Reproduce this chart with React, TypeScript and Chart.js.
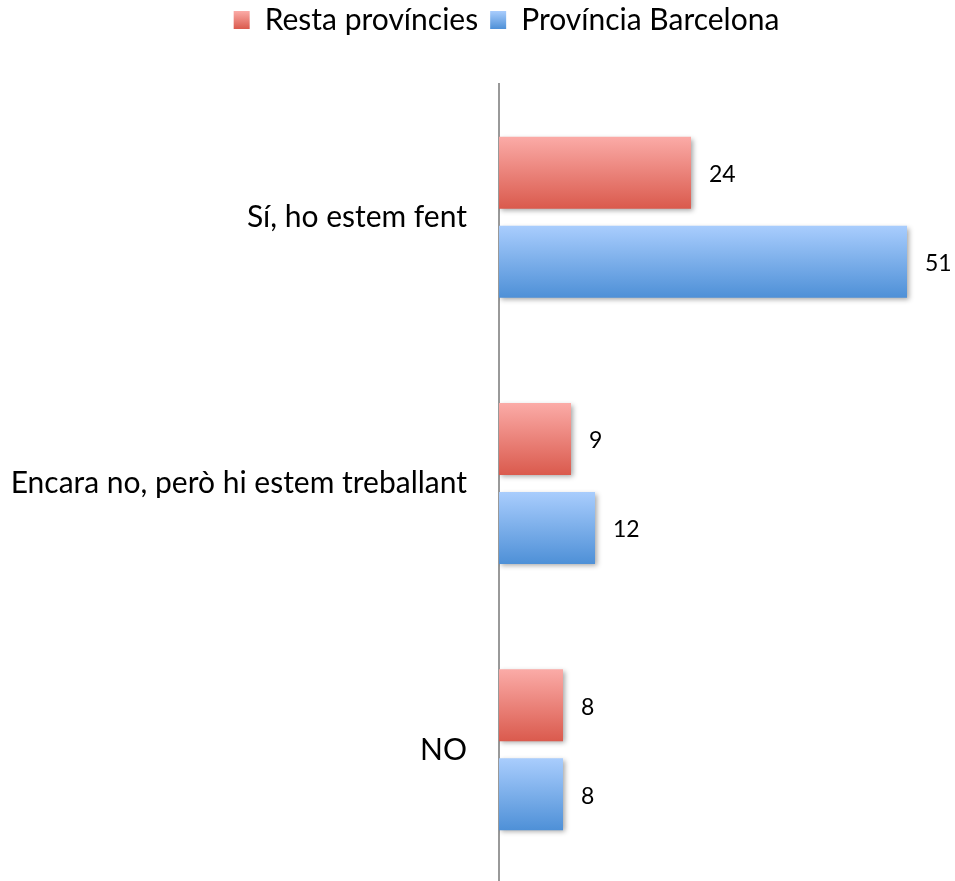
import React, { useEffect, useRef } from "react";
import { Chart, registerables } from "chart.js";

Chart.register(...registerables);

const categories = ["Sí, ho estem fent", "Encara no, però hi estem treballant", "NO"];
const seriesNames = ["Resta províncies", "Província Barcelona"];
const restaValues = [24, 9, 8];
const barcelonaValues = [51, 12, 8];

const RED_TOP = "#FBABA7";
const RED_BOTTOM = "#DA5A4D";
const BLUE_TOP = "#A9CDFD";
const BLUE_BOTTOM = "#4E90D7";

const CAT_PCT = 0.668;
const BAR_PCT = 0.809;
const FONT = "Lato";

function barGradient(c: any, top: string, bottom: string) {
  const chart = c.chart;
  const y = chart.scales && chart.scales.y;
  if (!y || c.type !== "data") return bottom;
  const center = y.getPixelForValue(c.dataIndex);
  const band = Math.abs(y.getPixelForValue(1) - y.getPixelForValue(0));
  if (!isFinite(band) || band <= 0) return bottom;
  const slot = (band * CAT_PCT) / 2;
  const h = slot * BAR_PCT;
  const bc = center + (c.datasetIndex - 0.5) * slot;
  const g = chart.ctx.createLinearGradient(0, bc - h / 2, 0, bc + h / 2);
  g.addColorStop(0, top);
  g.addColorStop(1, bottom);
  return g;
}

const shadowAndLabels = {
  id: "shadowAndLabels",
  afterLayout(chart: any) {
    const l = chart.legend;
    if (l) {
      l.left += 33;
      l.right += 33;
    }
  },
  beforeDatasetsDraw(chart: any) {
    const ctx = chart.ctx;
    ctx.save();
    ctx.shadowColor = "rgba(0,0,0,0.35)";
    ctx.shadowBlur = 5;
    ctx.shadowOffsetX = 2;
    ctx.shadowOffsetY = 2;
  },
  afterDatasetsDraw(chart: any) {
    const ctx = chart.ctx;
    ctx.restore();
    ctx.save();
    ctx.font = `23px ${FONT}`;
    ctx.fillStyle = "#000";
    ctx.textBaseline = "middle";
    ctx.textAlign = "left";
    chart.data.datasets.forEach((ds: any, i: number) => {
      const meta = chart.getDatasetMeta(i);
      meta.data.forEach((el: any, j: number) => {
        ctx.fillText(String(ds.data[j]), el.x + 18, el.y + 2);
      });
    });
    ctx.restore();
  },
};

export default function App() {
  const ref = useRef<HTMLCanvasElement>(null);
  useEffect(() => {
    if (!ref.current) return;
    const chart = new Chart(ref.current, {
      type: "bar",
      data: {
        labels: categories,
        datasets: [
          {
            label: seriesNames[0],
            data: restaValues,
            backgroundColor: (c: any) => barGradient(c, RED_TOP, RED_BOTTOM),
            borderWidth: 0,
            categoryPercentage: CAT_PCT,
            barPercentage: BAR_PCT,
          },
          {
            label: seriesNames[1],
            data: barcelonaValues,
            backgroundColor: (c: any) => barGradient(c, BLUE_TOP, BLUE_BOTTOM),
            borderWidth: 0,
            categoryPercentage: CAT_PCT,
            barPercentage: BAR_PCT,
          },
        ],
      },
      options: {
        indexAxis: "y",
        animation: false,
        responsive: false,
        layout: { padding: { left: 0, right: 8, top: -7, bottom: 1 } },
        scales: {
          x: { display: false, min: 0, max: 56 },
          y: {
            grid: { display: false, drawTicks: false },
            border: { display: true, color: "#999999", width: 2 },
            ticks: { color: "#000", font: { family: FONT, size: 30 }, padding: 32 },
            afterFit: (s: any) => {
              s.width = 499;
              s.paddingTop = 0;
              s.paddingBottom = 0;
            },
          },
        },
        plugins: {
          tooltip: { enabled: false },
          title: {
            display: true,
            text: " ",
            weight: 500,
            position: "top",
            font: { size: 10, lineHeight: 1 },
            padding: { top: 29, bottom: 0 },
          },
          legend: {
            position: "top",
            weight: 1000,
            labels: {
              color: "#000",
              font: { family: FONT, size: 30 },
              boxWidth: 16,
              boxHeight: 18,
              padding: 12,
              generateLabels: (chart: any) => {
                const tops = [RED_TOP, BLUE_TOP];
                const bots = [RED_BOTTOM, BLUE_BOTTOM];
                return seriesNames.map((name, i) => {
                  const g = chart.ctx.createLinearGradient(0, 11, 0, 29);
                  g.addColorStop(0, tops[i]);
                  g.addColorStop(1, bots[i]);
                  return {
                    text: name,
                    fillStyle: g,
                    strokeStyle: "rgba(0,0,0,0)",
                    lineWidth: 0,
                    hidden: false,
                    datasetIndex: i,
                    fontColor: "#000",
                  };
                });
              },
            },
          },
        },
      },
      plugins: [shadowAndLabels],
    });
    return () => chart.destroy();
  }, []);
  return (
    <div style={{ position: "absolute", left: 0, top: 0, width: 955, height: 881, overflow: "hidden", background: "#fff" }}>
      <canvas ref={ref} width={955} height={884} style={{ display: "block" }} />
    </div>
  );
}
